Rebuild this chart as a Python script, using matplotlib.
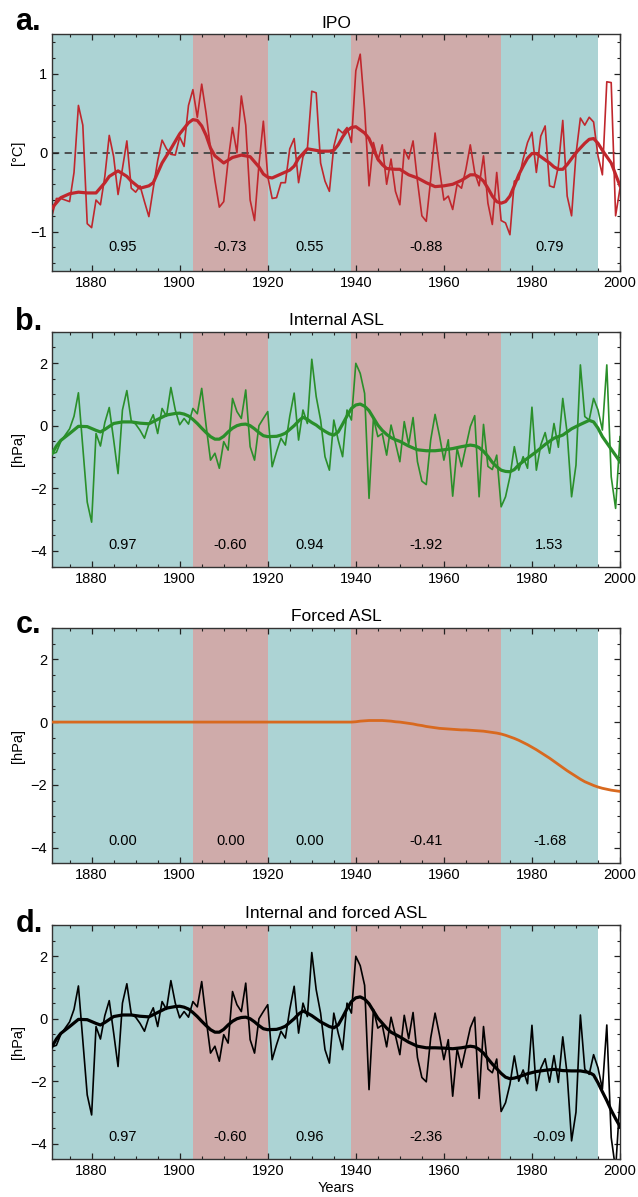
import matplotlib
matplotlib.use("Agg")
import matplotlib.pyplot as plt
from matplotlib.ticker import MultipleLocator

plt.rcParams['font.family'] = ['Liberation Sans', 'DejaVu Sans']

# ---------------- data ----------------
years = list(range(1871, 2001))

# period shading: (start, end, colour key) and the numbers written in each period
period_edges = [1871, 1903, 1920, 1939, 1973, 1995]
period_kind = ['pos', 'neg', 'pos', 'neg', 'pos']
ipo_period_text = ['0.95', '-0.73', '0.55', '-0.88', '0.79']
internal_period_text = ['0.97', '-0.60', '0.94', '-1.92', '1.53']
forced_period_text = ['0.00', '0.00', '0.00', '-0.41', '-1.68']
total_period_text = ['0.97', '-0.60', '0.96', '-2.36', '-0.09']

ipo_annual = [
    -0.80, -0.58, -0.58, -0.60, -0.62, -0.25, 0.60, 0.35, -0.90, -0.95,
    -0.60, -0.66, -0.30, 0.22, -0.05, -0.53, -0.20, 0.15, -0.45, -0.50,
    -0.42, -0.62, -0.81, -0.45, -0.10, 0.16, 0.05, -0.02, -0.03, 0.20,
    0.08, 0.60, 0.80, 0.45, 0.87, 0.50, 0.05, -0.35, -0.69, -0.62,
    -0.10, 0.32, 0.00, 0.72, 0.35, -0.60, -0.86, -0.15, 0.40, -0.30,
    -0.58, -0.57, -0.38, -0.38, 0.05, 0.18, -0.38, -0.05, 0.05, 0.78,
    0.76, -0.13, -0.36, -0.49, 0.08, 0.30, 0.25, 0.32, 0.13, 1.04,
    1.25, 0.55, -0.42, 0.13, -0.10, 0.10, -0.40, -0.08, -0.49, -0.66,
    0.04, -0.08, 0.15, -0.36, -0.80, -0.87, -0.34, 0.25, -0.21, -0.60,
    -0.55, -0.72, -0.40, -0.45, -0.21, 0.10, -0.25, -0.42, -0.04, -0.64,
    -0.91, -0.25, -0.86, -0.89, -1.04, -0.36, -0.34, -0.08, 0.13, 0.26,
    -0.25, 0.21, 0.34, -0.42, -0.44, -0.17, 0.41, -0.55, -0.80, -0.02,
    0.44, 0.35, 0.45, 0.39, -0.04, -0.28, 0.90, 0.89, -0.80, -0.45,
]
ipo_smooth_years = [
    1871, 1873, 1875, 1877, 1879, 1881, 1883, 1884, 1886, 1888, 1889, 1891,
    1893, 1894, 1896, 1898, 1900, 1902, 1903, 1904, 1905, 1906, 1907, 1908,
    1910, 1912, 1914, 1916, 1918, 1919, 1920, 1921, 1923, 1925, 1926, 1927,
    1929, 1930, 1932, 1934, 1935, 1936, 1937, 1938, 1939, 1940, 1941, 1942,
    1943, 1944, 1945, 1946, 1947, 1949, 1950, 1952, 1954, 1956, 1958, 1960,
    1962, 1964, 1966, 1967, 1968, 1969, 1970, 1971, 1972, 1973, 1974, 1975,
    1976, 1977, 1978, 1979, 1980, 1981, 1982, 1984, 1985, 1986, 1987, 1988,
    1990, 1992, 1993, 1994, 1995, 1996, 1998, 2000,
]
ipo_smooth = [
    -0.70, -0.57, -0.52, -0.50, -0.51, -0.51, -0.38, -0.30, -0.23, -0.30, -0.36, -0.45,
    -0.42, -0.38, -0.13, 0.05, 0.24, 0.38, 0.42, 0.41, 0.34, 0.22, 0.06, -0.04,
    -0.13, -0.06, -0.03, -0.05, -0.18, -0.27, -0.31, -0.32, -0.27, -0.22, -0.17, -0.07,
    0.05, 0.04, 0.02, 0.02, 0.03, 0.10, 0.20, 0.28, 0.32, 0.33, 0.29, 0.25,
    0.18, 0.05, -0.08, -0.15, -0.20, -0.21, -0.21, -0.28, -0.32, -0.38, -0.43, -0.42,
    -0.40, -0.35, -0.28, -0.28, -0.31, -0.36, -0.45, -0.55, -0.62, -0.64, -0.62, -0.55,
    -0.42, -0.28, -0.17, -0.07, -0.01, -0.01, -0.05, -0.13, -0.18, -0.21, -0.21, -0.15,
    0.00, 0.12, 0.17, 0.18, 0.12, 0.03, -0.13, -0.42,
]

internal_annual = [
    -0.90, -0.85, -0.50, -0.30, -0.10, 0.30, 1.05, -0.70, -2.44, -3.08,
    -0.25, -0.65, 0.10, 0.58, -0.45, -1.53, 0.50, 1.12, 0.15, 0.05,
    -0.15, -0.40, 0.05, 0.35, -0.25, 0.55, 0.30, 1.22, 0.50, 0.03,
    0.23, 0.05, 0.55, 0.38, 1.19, 0.00, -1.10, -0.88, -1.36, -0.51,
    -0.78, 0.87, 0.45, 0.23, 1.14, -0.67, -1.10, 0.00, 0.23, 0.45,
    -1.31, -0.83, -0.40, -0.62, 0.30, 1.04, -0.46, 0.50, 0.07, 2.12,
    0.93, 0.18, -0.99, -1.42, 0.18, -0.46, -0.99, 0.50, 0.18, 1.99,
    1.67, 1.03, -2.32, 0.25, -0.35, -0.25, -0.94, 0.02, -0.55, -1.15,
    0.13, -0.60, 0.26, -1.15, -1.77, -1.88, -0.46, 0.36, -0.32, -1.10,
    -0.45, -2.25, -0.72, -1.31, -0.67, -0.03, 0.32, -2.27, 0.04, -1.30,
    -1.40, -0.94, -2.59, -2.27, -1.63, -0.67, -1.42, -0.99, -1.36, 0.59,
    -1.42, -0.62, -0.22, -0.88, 0.07, -0.69, 0.87, -0.24, -2.27, -1.26,
    1.94, 0.29, 0.18, 0.87, 0.50, -0.14, 1.94, -1.63, -2.64, -0.35,
]
internal_smooth_years = [
    1871, 1872, 1873, 1875, 1877, 1879, 1881, 1882, 1883, 1885, 1887, 1889,
    1891, 1893, 1895, 1897, 1899, 1900, 1901, 1902, 1903, 1904, 1905, 1906,
    1907, 1908, 1909, 1910, 1911, 1912, 1913, 1914, 1915, 1916, 1917, 1918,
    1919, 1920, 1922, 1923, 1924, 1925, 1926, 1927, 1928, 1929, 1930, 1931,
    1932, 1933, 1934, 1935, 1936, 1937, 1938, 1939, 1940, 1941, 1942, 1943,
    1944, 1945, 1946, 1947, 1948, 1949, 1950, 1952, 1954, 1956, 1958, 1960,
    1962, 1964, 1966, 1967, 1968, 1969, 1970, 1971, 1972, 1973, 1974, 1975,
    1976, 1977, 1979, 1981, 1983, 1985, 1987, 1989, 1991, 1993, 1994, 1995,
    1996, 1997, 1998, 1999, 2000,
]
internal_smooth = [
    -0.89, -0.65, -0.47, -0.25, -0.02, -0.03, -0.15, -0.20, -0.12, 0.07, 0.12, 0.12,
    0.08, 0.06, 0.20, 0.34, 0.39, 0.40, 0.37, 0.31, 0.20, 0.07, -0.08, -0.22,
    -0.35, -0.43, -0.43, -0.34, -0.20, -0.08, 0.00, 0.04, 0.05, 0.00, -0.10, -0.22,
    -0.32, -0.35, -0.34, -0.30, -0.24, -0.12, 0.00, 0.15, 0.27, 0.20, 0.10, 0.02,
    -0.09, -0.18, -0.26, -0.30, -0.20, 0.05, 0.31, 0.55, 0.66, 0.69, 0.62, 0.48,
    0.25, 0.02, -0.15, -0.28, -0.38, -0.45, -0.50, -0.65, -0.77, -0.80, -0.80, -0.77,
    -0.73, -0.67, -0.62, -0.64, -0.70, -0.82, -0.98, -1.17, -1.31, -1.42, -1.46, -1.47,
    -1.40, -1.25, -1.04, -0.83, -0.60, -0.40, -0.30, -0.10, 0.04, 0.17, 0.12, -0.08,
    -0.35, -0.55, -0.75, -0.95, -1.15,
]

forced_years = [1871] + list(range(1939, 2001))
forced = [
    0.00,
    0.00, 0.01, 0.03, 0.04, 0.05, 0.05, 0.05, 0.05, 0.04, 0.03, 0.01,
    0.00, -0.02, -0.04, -0.06, -0.09, -0.11, -0.14, -0.16, -0.18, -0.20,
    -0.21, -0.22, -0.23, -0.24, -0.25, -0.25, -0.26, -0.27, -0.28, -0.29,
    -0.31, -0.33, -0.35, -0.38, -0.42, -0.47, -0.52, -0.58, -0.65, -0.72,
    -0.80, -0.88, -0.97, -1.06, -1.15, -1.25, -1.35, -1.45, -1.55, -1.64,
    -1.73, -1.82, -1.90, -1.96, -2.02, -2.07, -2.11, -2.14, -2.17, -2.19,
    -2.21,
]

total_annual = [
    -0.90, -0.85, -0.50, -0.30, -0.10, 0.30, 1.05, -0.70, -2.44, -3.08,
    -0.25, -0.65, 0.10, 0.58, -0.45, -1.53, 0.50, 1.12, 0.15, 0.05,
    -0.15, -0.40, 0.05, 0.35, -0.25, 0.55, 0.30, 1.22, 0.50, 0.03,
    0.23, 0.05, 0.55, 0.38, 1.19, 0.00, -1.10, -0.88, -1.36, -0.51,
    -0.78, 0.87, 0.45, 0.23, 1.14, -0.67, -1.10, 0.00, 0.23, 0.45,
    -1.31, -0.83, -0.40, -0.62, 0.30, 1.04, -0.46, 0.50, 0.07, 2.12,
    0.93, 0.18, -0.99, -1.42, 0.18, -0.46, -0.99, 0.50, 0.18, 2.00,
    1.70, 1.07, -2.27, 0.30, -0.30, -0.20, -0.90, 0.05, -0.54, -1.15,
    0.11, -0.64, 0.20, -1.24, -1.88, -2.02, -0.62, 0.18, -0.52, -1.31,
    -0.67, -2.48, -0.96, -1.56, -0.92, -0.29, 0.05, -2.55, -0.25, -1.61,
    -1.73, -1.29, -2.97, -2.69, -2.10, -1.19, -2.00, -1.64, -2.08, -0.21,
    -2.30, -1.59, -1.28, -2.03, -1.18, -2.04, -0.58, -1.79, -3.91, -2.99,
    0.12, -1.61, -1.78, -1.15, -1.57, -2.25, -0.20, -3.80, -4.83, -2.56,
]
total_smooth_years = [
    1871, 1872, 1873, 1875, 1877, 1879, 1881, 1882, 1883, 1885, 1887, 1889,
    1891, 1893, 1895, 1897, 1899, 1900, 1901, 1902, 1903, 1904, 1905, 1906,
    1907, 1908, 1909, 1910, 1911, 1912, 1913, 1914, 1915, 1916, 1917, 1918,
    1919, 1920, 1922, 1923, 1924, 1925, 1926, 1927, 1928, 1929, 1930, 1932,
    1934, 1935, 1936, 1937, 1938, 1939, 1940, 1941, 1942, 1943, 1944, 1945,
    1946, 1947, 1948, 1950, 1952, 1954, 1956, 1958, 1960, 1962, 1964, 1966,
    1967, 1968, 1969, 1970, 1971, 1972, 1973, 1974, 1975, 1976, 1977, 1979,
    1981, 1983, 1985, 1987, 1989, 1991, 1993, 1994, 1995, 1996, 1997, 1998,
    1999, 2000,
]
total_smooth = [
    -0.89, -0.65, -0.47, -0.25, -0.02, -0.03, -0.15, -0.20, -0.12, 0.07, 0.12, 0.12,
    0.08, 0.06, 0.20, 0.34, 0.39, 0.40, 0.37, 0.31, 0.20, 0.07, -0.08, -0.22,
    -0.35, -0.43, -0.43, -0.34, -0.20, -0.08, 0.00, 0.04, 0.05, 0.00, -0.10, -0.22,
    -0.32, -0.35, -0.34, -0.30, -0.24, -0.12, 0.00, 0.15, 0.25, 0.18, 0.10, -0.10,
    -0.25, -0.29, -0.20, 0.05, 0.32, 0.55, 0.67, 0.70, 0.63, 0.48, 0.25, 0.02,
    -0.14, -0.30, -0.43, -0.58, -0.75, -0.88, -0.93, -0.93, -0.94, -0.96, -0.93, -0.88,
    -0.90, -0.98, -1.10, -1.28, -1.45, -1.60, -1.75, -1.87, -1.92, -1.90, -1.86, -1.76,
    -1.69, -1.65, -1.62, -1.66, -1.67, -1.67, -1.72, -1.80, -2.05, -2.34, -2.62, -2.93,
    -3.20, -3.45,
]

# ---------------- style ----------------
TEAL = '#acd3d4'
ROSE = '#cfabaa'
RED = '#c0272d'
GREEN = '#2a8f2a'
ORANGE = '#d8691f'

fig = plt.figure(figsize=(6.38, 11.97), dpi=100)

axes_rects = [
    [0.0815, 0.7736, 0.8903, 0.1976],
    [0.0815, 0.5266, 0.8903, 0.1963],
    [0.0815, 0.2788, 0.8903, 0.1966],
    [0.0815, 0.0315, 0.8903, 0.1957],
]
titles = ['IPO', 'Internal ASL', 'Forced ASL', 'Internal and forced ASL']
letters = ['a.', 'b.', 'c.', 'd.']
letter_y = [0.975, 0.7243, 0.4712, 0.2214]
texts = [ipo_period_text, internal_period_text, forced_period_text, total_period_text]


def shade(ax):
    for i, kind in enumerate(period_kind):
        ax.axvspan(period_edges[i], period_edges[i + 1],
                   color=TEAL if kind == 'pos' else ROSE, lw=0, zorder=0)


def style_axis(ax, ylim, major, minor):
    ax.set_xlim(1871, 2000)
    ax.set_ylim(*ylim)
    ax.xaxis.set_major_locator(MultipleLocator(20))
    ax.xaxis.set_minor_locator(MultipleLocator(5))
    ax.yaxis.set_major_locator(MultipleLocator(major))
    ax.yaxis.set_minor_locator(MultipleLocator(minor))
    ax.tick_params(which='both', direction='in', top=True, right=True,
                   labelsize=10.5, colors='#222222', labelcolor='black')
    ax.tick_params(which='major', length=4.5, width=0.9)
    ax.tick_params(which='minor', length=2.5, width=0.8)
    for s in ax.spines.values():
        s.set_color('#333333')
        s.set_linewidth(1.0)


axs = [fig.add_axes(r) for r in axes_rects]

for k, ax in enumerate(axs):
    shade(ax)
    ax.set_title(titles[k], fontsize=12.5, pad=5)
    fig.text(0.024, letter_y[k], letters[k], fontsize=22, weight='bold',
             va='baseline', ha='left')
    text_y = -1.2 if k == 0 else -3.8
    for i, t in enumerate(texts[k]):
        mid = 0.5 * (period_edges[i] + period_edges[i + 1])
        ax.text(mid, text_y, t, ha='center', va='center', fontsize=10.5)

# a. IPO
ax = axs[0]
ax.axhline(0, color='#444444', ls='--', lw=1.3, dashes=(4, 3), zorder=1)
ax.plot(years, ipo_annual, color=RED, lw=1.2, zorder=2)
ax.plot(ipo_smooth_years, ipo_smooth, color=RED, lw=2.3, zorder=3)
style_axis(ax, (-1.5, 1.5), 1, 0.2)
ax.set_ylabel('[°C]', fontsize=10.5, labelpad=4)

# b. internal
ax = axs[1]
ax.plot(years, internal_annual, color=GREEN, lw=1.2, zorder=2)
ax.plot(internal_smooth_years, internal_smooth, color=GREEN, lw=2.3, zorder=3)
style_axis(ax, (-4.5, 3), 2, 0.5)
ax.set_ylabel('[hPa]', fontsize=10.5, labelpad=4)

# c. forced
ax = axs[2]
ax.plot(forced_years, forced, color=ORANGE, lw=2.0, zorder=3)
style_axis(ax, (-4.5, 3), 2, 0.5)
ax.set_ylabel('[hPa]', fontsize=10.5, labelpad=4)

# d. internal + forced
ax = axs[3]
ax.plot(years, total_annual, color='black', lw=1.2, zorder=2)
ax.plot(total_smooth_years, total_smooth, color='black', lw=2.3, zorder=3)
style_axis(ax, (-4.5, 3), 2, 0.5)
ax.set_ylabel('[hPa]', fontsize=10.5, labelpad=4)
ax.set_xlabel('Years', fontsize=10.5, labelpad=2)

fig.savefig('out.png', dpi=100)
